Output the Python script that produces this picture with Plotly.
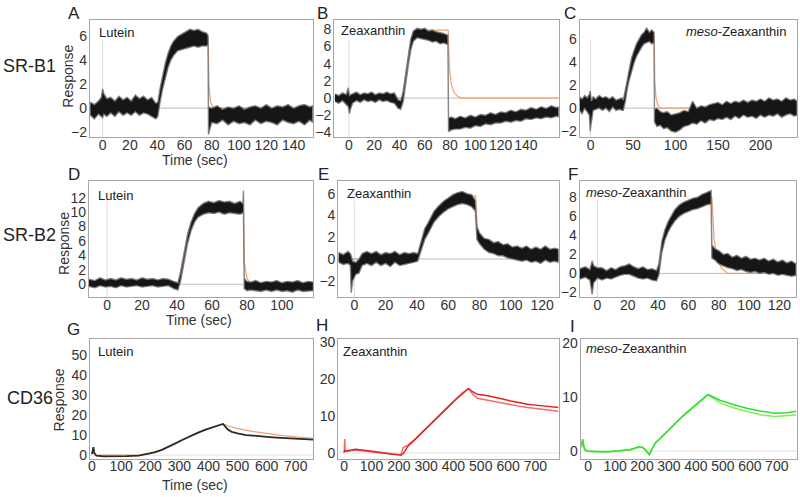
import plotly.graph_objects as go

# ---------------- DATA ----------------
# Row 1: SR-B1 ; noisy sensorgram envelopes (upper / lower), plus fitted curves
A_t = [-9, -6, -3, -1, 0, 1, 3, 6, 9, 12,
       15, 18, 21, 24, 27, 30, 33, 36, 39, 40.5,
       42, 44, 46, 48, 50, 52, 55, 58, 61, 64,
       67, 70, 73, 76, 77.3, 77.6, 80, 84, 88, 92,
       96, 100, 104, 108, 112, 116, 120, 124, 128, 132,
       136, 140, 144, 148, 152, 154]
A_up = [0.5, 0.3, 0.6, 0.9, 1.6, 1.2, 0.8, 0.9, 0.6, 1.0,
        0.7, 0.9, 0.6, 1.1, 0.8, 1.0, 0.7, 0.9, 0.4, 0.5,
        1.6, 2.8, 3.8, 4.6, 5.2, 5.6, 6.0, 6.2, 6.4, 6.6,
        6.5, 6.6, 6.4, 6.3, 6.1, 0.1, 0.0, 0.2, -0.1, 0.1,
        0.0, 0.2, -0.1, 0.1, 0.2, 0.0, 0.3, 0.0, 0.2, 0.1,
        0.3, 0.0, 0.2, 0.3, 0.1, 0.2]
A_lo = [-0.6, -0.9, -0.5, -0.7, -0.8, -0.5, -0.7, -0.4, -0.7, -0.3,
        -0.6, -0.4, -0.6, -0.3, -0.6, -0.4, -0.5, -0.7, -0.9, -0.7,
        0.4, 1.6, 2.6, 3.4, 4.0, 4.4, 4.8, 4.9, 5.0, 5.1,
        5.2, 5.1, 5.2, 5.2, 5.3, -2.2, -1.2, -1.3, -1.0, -1.4,
        -1.1, -1.3, -1.2, -1.4, -1.0, -1.3, -1.1, -1.2, -1.4, -1.0,
        -1.2, -1.3, -1.1, -1.4, -1.0, -1.2]
A_fit_t = [-9, 40.5, 42, 44, 46, 48, 50, 53, 56, 60, 65, 70, 77.3, 78, 79, 81, 154]
A_fit_y = [0, 0, 0.9, 2.0, 2.9, 3.6, 4.2, 4.8, 5.2, 5.5, 5.7, 5.8, 5.9, 2.0, 0.6, 0.0, 0.0]

B_t = [-11, -8, -5, -2, -0.5, 0.5, 1.5, 3, 6, 9,
       12, 15, 18, 21, 24, 27, 30, 33, 36, 39,
       41, 43, 45, 47, 49, 51, 54, 57, 60, 63,
       66, 69, 72, 75, 78.3, 78.8, 81, 84, 88, 92,
       96, 100, 104, 108, 112, 116, 120, 124, 128, 132,
       136, 140, 144, 148, 152, 156, 160, 164, 166]
B_up = [0.5, 0.3, 0.6, 0.4, 1.2, 0.3, 0.4, 0.5, 0.7, 0.4,
        0.6, 0.5, 0.7, 0.4, 0.6, 0.5, 0.7, 0.5, 0.6, -0.2,
        -0.3, 0.8, 3.0, 5.2, 6.9, 7.8, 8.1, 8.0, 8.1, 7.8,
        7.9, 7.7, 7.6, 7.5, 7.3, -2.3, -2.2, -2.4, -2.1, -2.3,
        -2.0, -2.2, -1.9, -2.0, -1.7, -1.9, -1.6, -1.7, -1.4, -1.6,
        -1.3, -1.4, -1.1, -1.3, -1.0, -1.2, -0.9, -1.1, -1.0]
B_lo = [-0.4, -0.6, -0.3, -0.8, -1.0, -1.8, -1.2, -0.6, -0.3, -0.5,
        -0.2, -0.4, -0.3, -0.5, -0.2, -0.4, -0.3, -0.5, -0.6, -1.2,
        -1.3, -0.4, 1.6, 3.8, 5.6, 6.6, 7.0, 6.9, 6.8, 6.7,
        6.5, 6.6, 6.3, 6.4, 6.2, -3.9, -3.7, -3.6, -3.6, -3.4,
        -3.5, -3.2, -3.3, -3.0, -3.1, -2.9, -2.9, -2.7, -2.8, -2.6,
        -2.7, -2.4, -2.5, -2.3, -2.4, -2.2, -2.3, -2.1, -2.2]
B_fit_t = [-11, 42, 44, 46, 48, 50, 53, 57, 65, 78.5, 79.5, 81, 83, 86, 89, 166]
B_fit_y = [0, 0, 1.8, 4.0, 5.9, 7.0, 7.6, 7.8, 7.9, 7.9, 3.5, 1.6, 0.7, 0.2, 0.0, 0.0]

C_t = [-13, -10, -7, -4, -1.5, -0.5, 1, 3, 6, 10,
       14, 18, 22, 26, 30, 34, 37, 38.5, 41, 43,
       45, 48, 51, 54, 57, 60, 63, 66, 69, 72,
       74.7, 75.2, 78, 82, 86, 90, 95, 100, 105, 110,
       115, 120, 125, 130, 135, 140, 145, 150, 155, 160,
       165, 170, 175, 180, 185, 190, 195, 200, 205, 210,
       215, 220, 225, 230, 235, 240, 243]
C_up = [1.0, 0.8, 1.1, 0.9, 1.2, 1.5, 0.6, 1.0, 0.8, 1.1,
        0.9, 1.0, 0.8, 1.0, 0.7, 0.8, 0.9, 0.7, 1.6, 2.6,
        3.3, 4.3, 5.0, 5.6, 6.0, 6.4, 6.6, 7.0, 6.6, 6.8,
        6.6, -0.1, 0.0, -0.3, -0.4, -0.3, -0.6, -0.5, -0.4, -0.2,
        -0.3, 0.6, 0.0, 0.2, 0.1, 0.3, 0.4, 0.5, 0.3, 0.6,
        0.4, 0.6, 0.5, 0.7, 0.5, 0.7, 0.6, 0.8, 0.6, 0.9,
        0.7, 0.8, 0.6, 0.9, 0.7, 0.8, 0.6]
C_lo = [-0.2, -0.5, 0.0, -0.3, -0.6, -2.0, -1.2, -0.2, -0.1, 0.0,
        -0.2, 0.0, -0.3, 0.1, -0.2, -0.1, -0.2, -0.2, 0.6, 1.6,
        2.3, 3.2, 3.9, 4.5, 4.9, 5.3, 5.6, 5.7, 5.8, 5.6,
        5.7, -1.2, -1.6, -1.5, -1.8, -1.7, -2.0, -2.1, -1.9, -1.6,
        -1.5, -1.3, -1.4, -1.1, -1.3, -1.0, -1.1, -0.9, -1.0, -0.8,
        -1.0, -0.7, -0.9, -0.6, -0.8, -0.7, -0.9, -0.6, -0.8, -0.6,
        -0.7, -0.5, -0.8, -0.6, -0.5, -0.7, -0.6]
C_fit_t = [-13, 38.5, 41, 44, 47, 50, 54, 58, 63, 68, 75, 75.5, 77, 79, 82, 243]
C_fit_y = [0, 0, 1.2, 2.4, 3.4, 4.2, 5.0, 5.5, 5.9, 6.1, 6.2, 2.5, 0.9, 0.3, 0.0, 0.0]

# Row 2: SR-B2
D_t = [-10.5, -7, -4, -1, 2, 5, 8, 11, 14, 17,
       20, 23, 26, 29, 32, 35, 38, 40.5, 42, 44,
       46, 48, 50, 52, 55, 58, 61, 64, 67, 70,
       73, 76, 77.7, 78, 78.4, 80, 82, 85, 88, 91,
       94, 97, 100, 103, 106, 109, 112, 115, 118]
D_up = [0.7, 0.5, 0.9, 0.6, 0.8, 0.6, 0.9, 0.7, 0.8, 0.6,
        0.9, 0.7, 0.8, 0.6, 0.8, 0.7, 0.4, 0.2, 1.6, 4.2,
        6.8, 8.6, 9.8, 10.6, 11.2, 11.5, 11.3, 11.6, 11.4, 11.5,
        11.2, 11.5, 11.2, 13.0, 0.8, 0.4, 0.3, 0.5, 0.2, 0.4,
        0.3, 0.5, 0.2, 0.4, 0.3, 0.5, 0.2, 0.4, 0.3]
D_lo = [-0.3, -0.5, -0.2, -0.4, -0.3, -0.5, -0.2, -0.4, -0.3, -0.2,
        -0.4, -0.3, -0.2, -0.4, -0.3, -0.2, -0.6, -0.8, 0.4, 3.0,
        5.6, 7.4, 8.6, 9.3, 9.7, 9.9, 9.8, 10.0, 9.7, 9.9,
        9.8, 9.7, 9.9, 10.0, -0.6, -0.9, -0.8, -0.9, -1.0, -0.8,
        -1.0, -0.8, -1.0, -0.9, -1.1, -0.8, -1.0, -0.9, -0.9]
D_fit_t = [-10.5, 40.5, 42, 44, 46, 48, 50, 53, 57, 62, 70, 78, 78.5, 80, 82, 118]
D_fit_y = [0.0, 0.0, 1.8, 4.5, 7.0, 8.6, 9.5, 10.2, 10.5, 10.6, 10.6, 10.6, 3.0, 0.8, 0.2, 0.0]

E_t = [-10, -7, -4, -2.5, -2, -1, 1, 3, 5, 8,
       11, 14, 17, 20, 23, 26, 29, 32, 35, 38,
       40.5, 43, 45, 47, 49, 51, 54, 57, 60, 63,
       66, 69, 72, 75, 77.3, 78.3, 80, 83, 86, 89,
       92, 95, 98, 101, 104, 107, 110, 113, 116, 119,
       122, 125, 128, 130.5]
E_up = [0.6, 0.4, 0.7, 0.5, 0.3, -0.2, -0.3, 0.0, 0.5, 0.7,
        0.5, 0.7, 0.4, 0.6, 0.5, 0.7, 0.4, 0.6, 0.5, 0.6,
        0.5, 1.9, 2.8, 3.3, 3.9, 4.4, 4.9, 5.3, 5.6, 5.9,
        6.1, 6.2, 6.0, 5.9, 5.4, 3.0, 2.4, 1.9, 1.8, 1.5,
        1.6, 1.3, 1.4, 1.1, 1.2, 1.0, 1.2, 0.9, 1.1, 0.9,
        1.2, 0.9, 1.0, 0.9]
E_lo = [-0.3, -0.5, -0.4, -0.6, -3.1, -2.0, -1.4, -1.3, -0.6, -0.4,
        -0.6, -0.3, -0.6, -0.4, -0.7, -0.3, -0.6, -0.5, -0.4, -0.3,
        -0.2, 1.0, 1.8, 2.3, 2.8, 3.4, 3.9, 4.3, 4.6, 4.8,
        5.0, 5.1, 5.0, 4.8, 4.4, 1.8, 1.4, 0.9, 0.6, 0.5,
        0.3, 0.3, 0.1, 0.0, -0.1, -0.2, -0.1, -0.3, -0.2, -0.4,
        -0.1, -0.3, -0.2, -0.3]
E_fit_t = [-10, 40.5, 43, 46, 50, 54, 58, 62, 66, 70, 77.5, 78.5, 80, 84, 90, 100, 110, 130.5]
E_fit_y = [0, 0, 1.4, 2.4, 3.6, 4.4, 5.0, 5.4, 5.6, 5.7, 5.8, 2.6, 1.8, 1.3, 0.9, 0.6, 0.4, 0.3]

F_t = [-11.5, -8, -5, -3.5, -2.5, 0, 3, 6, 9, 12,
       15, 18, 21, 24, 27, 30, 33, 36, 39, 40.5,
       42.5, 44.5, 46.5, 48.5, 51, 54, 57, 60, 63, 66,
       69, 72, 75, 75.5, 77.5, 80, 83, 86, 89, 92,
       95, 98, 101, 104, 107, 110, 113, 116, 119, 122,
       125, 128, 131]
F_up = [0.5, 0.7, 0.4, 1.3, 0.8, 0.6, 0.6, 0.3, 0.6, 0.4,
        0.7, 0.8, 1.0, 0.7, 0.5, 0.7, 0.4, 0.5, 0.3, 1.0,
        3.4, 4.6, 5.4, 6.0, 6.7, 7.2, 7.5, 7.7, 7.9, 8.0,
        8.3, 8.5, 8.7, 3.0, 2.6, 2.4, 2.0, 2.1, 1.7, 1.9,
        1.6, 1.8, 1.5, 1.6, 1.4, 1.6, 1.3, 1.5, 1.2, 1.4,
        1.1, 1.3, 1.0]
F_lo = [-0.6, -0.4, -0.7, -2.2, -1.0, -0.5, -0.7, -0.5, -0.6, -0.4,
        -0.2, -0.1, -0.1, -0.3, -0.5, -0.6, -0.5, -0.7, -0.8, -0.2,
        2.2, 3.5, 4.3, 4.9, 5.5, 6.0, 6.3, 6.5, 6.7, 6.8,
        7.0, 7.2, 7.3, 1.6, 1.4, 1.0, 0.8, 0.6, 0.5, 0.3,
        0.4, 0.2, 0.1, 0.2, 0.0, 0.1, -0.1, 0.0, -0.2, -0.1,
        -0.2, -0.3, -0.2]
F_fit_t = [-11.5, 40, 42, 44, 46, 49, 52, 56, 60, 65, 70, 75.5, 77, 79, 82, 86, 131]
F_fit_y = [0, 0, 2.0, 3.6, 4.7, 5.8, 6.5, 7.1, 7.4, 7.7, 7.9, 8.0, 3.5, 1.5, 0.5, 0.0, 0.0]

# Row 3: CD36 (smoother traces)
G_t = [0, 3, 5, 8, 15, 40, 80, 120, 160, 190, 215, 240, 265, 290, 315, 340,
       365, 390, 415, 440, 450, 458, 468, 480, 500, 530, 570, 610, 650, 700, 760]
G_y = [0.5, 2.0, 4.0, 1.0, -0.2, -0.6, -0.6, -0.5, -0.2, 0.5, 1.4, 2.6, 4.2, 6.1, 7.9, 9.7,
       11.2, 12.7, 13.9, 15.0, 15.5, 14.2, 12.6, 11.6, 10.8, 10.0, 9.4, 9.0, 8.6, 8.1, 7.7]
G_fit_t = [20, 160, 190, 215, 240, 265, 290, 315, 340, 365, 390, 415, 440, 450,
           470, 500, 550, 600, 650, 700, 760]
G_fit_y = [0, 0, 0.5, 1.4, 2.6, 4.2, 6.1, 7.9, 9.7, 11.2, 12.7, 13.9, 15.0, 15.5,
           14.5, 13.2, 11.8, 10.7, 9.8, 9.1, 8.4]

H_t = [0, 2, 4, 10, 40, 89, 138, 186, 208, 216, 235, 260, 284, 308, 332, 357,
       381, 406, 430, 455, 470, 488, 520, 549, 580, 610, 640, 671, 710, 750, 785]
H_y1 = [0.2, 0.8, 0.5, 0.6, 1.0, 0.6, 0.1, -0.5, -0.6, -0.2, 2.0, 3.7, 5.5, 7.2, 9.0, 10.8,
        12.5, 14.3, 16.0, 17.5, 16.6, 15.9, 15.6, 15.2, 14.6, 14.1, 13.6, 13.2, 12.9, 12.6, 12.3]
H_y2 = [0.0, 3.8, 0.6, 0.4, 0.8, 0.5, 0.0, -0.4, -0.3, 1.5, 2.2, 3.8, 5.6, 7.3, 9.1, 10.9,
        12.6, 14.4, 16.1, 17.4, 16.0, 14.8, 14.4, 14.0, 13.6, 13.2, 12.7, 12.3, 11.9, 11.6, 11.3]

I_t = [-25, -20, -15, -10, 0, 30, 70, 110, 157, 188, 202, 212, 227, 237, 249, 270,
       289, 313, 338, 364, 389, 417, 445, 470, 491, 541, 592, 642, 693, 740, 772]
I_y1 = [1.0, 2.2, 0.8, 0.2, 0.0, -0.1, -0.2, 0.0, 0.3, 0.8, 0.7, 0.2, -0.7, 0.3, 1.5, 2.5,
        3.5, 4.7, 5.9, 7.1, 8.2, 9.4, 10.5, 9.9, 9.4, 8.6, 7.9, 7.4, 7.0, 7.1, 7.4]
I_y2 = [0.6, 1.5, 0.4, 0.0, -0.1, -0.2, -0.1, 0.1, 0.2, 0.7, 0.6, 0.3, -0.5, 0.4, 1.4, 2.4,
        3.4, 4.6, 5.8, 7.0, 8.1, 9.3, 10.4, 9.6, 8.9, 8.0, 7.3, 6.7, 6.4, 6.5, 6.7]

# Tick labels
X_TICKS_A = [0, 20, 40, 60, 80, 100, 120, 140]
X_TICKS_C = [0, 50, 100, 150, 200]
X_TICKS_D = [0, 20, 40, 60, 80, 100]
X_TICKS_EF = [0, 20, 40, 60, 80, 100, 120]
X_TICKS_CD36 = [0, 100, 200, 300, 400, 500, 600, 700]
Y_TICKS_A = [-2, 0, 2, 4, 6]
Y_TICKS_B = [-4, -2, 0, 2, 4, 6, 8]
Y_TICKS_D = [0, 2, 4, 6, 8, 10, 12]
Y_TICKS_E = [-2, 0, 2, 4, 6]
Y_TICKS_F = [-2, 0, 2, 4, 6, 8]
Y_TICKS_G = [0, 10, 20, 30, 40, 50]
Y_TICKS_H = [0, 10, 20, 30]
Y_TICKS_I = [0, 10, 20]

LIGANDS = ["Lutein", "Zeaxanthin", "<i>meso</i>-Zeaxanthin"]
RECEPTORS = ["SR-B1", "SR-B2", "CD36"]
LETTERS = ["A", "B", "C", "D", "E", "F", "G", "H", "I"]

# ---------------- LAYOUT ----------------
W, H = 800, 497
FONT = "Liberation Sans, Arial, Helvetica, sans-serif"

def fx(p):
    return p / W

def fy(p):
    return 1 - p / H

# pixel boxes: (left, right, top, bottom), axis ranges
panels = [
    dict(box=(88, 312, 16, 135), xr=[-9.4, 154.4], yr=[-2.4, 7.4], xt=X_TICKS_A, yt=Y_TICKS_A),
    dict(box=(333, 558, 16, 135), xr=[-11.6, 165.8], yr=[-4.5, 9.1], xt=X_TICKS_A, yt=Y_TICKS_B),
    dict(box=(579, 797, 16, 135), xr=[-13, 243], yr=[-2.5, 7.7], xt=X_TICKS_C, yt=Y_TICKS_A),
    dict(box=(87, 312, 180, 298), xr=[-10.5, 117.9], yr=[-1.8, 14.3], xt=X_TICKS_D, yt=Y_TICKS_D),
    dict(box=(337, 558, 180, 298), xr=[-10.3, 130.5], yr=[-3.5, 7.15], xt=X_TICKS_EF, yt=Y_TICKS_E),
    dict(box=(579, 796, 180, 298), xr=[-11.8, 131], yr=[-2.5, 9.7], xt=X_TICKS_EF, yt=Y_TICKS_F),
    dict(box=(88, 312, 340, 462), xr=[-7.5, 760], yr=[-1.7, 58], xt=X_TICKS_CD36, yt=Y_TICKS_G),
    dict(box=(337, 558, 340, 462), xr=[-22, 785], yr=[-1.5, 31], xt=X_TICKS_CD36, yt=Y_TICKS_H),
    dict(box=(580, 797, 340, 462), xr=[-28, 775], yr=[-1.4, 20.9], xt=X_TICKS_CD36, yt=Y_TICKS_I),
]

fig = go.Figure()
layout = dict(width=W, height=H, margin=dict(l=0, r=0, t=0, b=0),
              paper_bgcolor="white", plot_bgcolor="white", showlegend=False,
              font=dict(family=FONT, color="#333333"))
shapes = []

for i, p in enumerate(panels):
    n = i + 1
    sfx = "" if n == 1 else str(n)
    l, r, t, b = p["box"]
    common = dict(showline=True, mirror=True, linecolor="#a6a6a6", linewidth=1,
                  showgrid=False, zeroline=False, ticks="", tickangle=0,
                  tickfont=dict(size=14, color="#333333", family=FONT), fixedrange=True)
    layout["xaxis" + sfx] = dict(domain=[fx(l), fx(r)], anchor="y" + sfx, range=p["xr"],
                                 tickmode="array", tickvals=p["xt"], ticklabelstandoff=-5,
                                 **common)
    layout["yaxis" + sfx] = dict(domain=[fy(b), fy(t)], anchor="x" + sfx, range=p["yr"],
                                 tickmode="array", tickvals=p["yt"], ticklabelstandoff=-1,
                                 **common)
    zc = "#bdbdbd" if n <= 6 else "#e2e2e2"
    shapes.append(dict(type="line", xref="x" + sfx + " domain", x0=0, x1=1,
                       yref="y" + sfx, y0=0, y1=0, layer="below",
                       line=dict(color=zc, width=1)))
    if n <= 6:
        shapes.append(dict(type="line", xref="x" + sfx, x0=0, x1=0,
                           yref="y" + sfx + " domain", y0=0, y1=0.83, layer="below",
                           line=dict(color="#dadada", width=1)))

FIT_COLOR = "#f0a070"

def band(n, t, up, lo, fit_t, fit_y):
    sfx = "" if n == 1 else str(n)
    fig.add_trace(go.Scatter(x=fit_t, y=fit_y, mode="lines", xaxis="x" + sfx, yaxis="y" + sfx,
                             line=dict(color=FIT_COLOR, width=1.2), hoverinfo="skip"))
    fig.add_trace(go.Scatter(x=t + t[::-1], y=up + lo[::-1], mode="lines", fill="toself",
                             fillcolor="#161616", xaxis="x" + sfx, yaxis="y" + sfx,
                             line=dict(color="rgba(120,120,120,0.85)", width=1.4),
                             hoverinfo="skip"))

band(1, A_t, A_up, A_lo, A_fit_t, A_fit_y)
band(2, B_t, B_up, B_lo, B_fit_t, B_fit_y)
band(3, C_t, C_up, C_lo, C_fit_t, C_fit_y)
band(4, D_t, D_up, D_lo, D_fit_t, D_fit_y)
band(5, E_t, E_up, E_lo, E_fit_t, E_fit_y)
band(6, F_t, F_up, F_lo, F_fit_t, F_fit_y)

# CD36 panels
fig.add_trace(go.Scatter(x=G_fit_t, y=G_fit_y, mode="lines", xaxis="x7", yaxis="y7",
                         line=dict(color=FIT_COLOR, width=1.2)))
fig.add_trace(go.Scatter(x=G_t, y=G_y, mode="lines", xaxis="x7", yaxis="y7",
                         line=dict(color="#2a2a2a", width=1.8)))
fig.add_trace(go.Scatter(x=H_t, y=H_y2, mode="lines", xaxis="x8", yaxis="y8",
                         line=dict(color="#f26a6a", width=1.5)))
fig.add_trace(go.Scatter(x=H_t, y=H_y1, mode="lines", xaxis="x8", yaxis="y8",
                         line=dict(color="#e02424", width=1.5)))
fig.add_trace(go.Scatter(x=I_t, y=I_y2, mode="lines", xaxis="x9", yaxis="y9",
                         line=dict(color="#86ee5e", width=1.5)))
fig.add_trace(go.Scatter(x=I_t, y=I_y1, mode="lines", xaxis="x9", yaxis="y9",
                         line=dict(color="#2fe02f", width=1.5)))

# ---------------- TEXT ----------------
ann = []

def text(xp, yp, s, size, xanchor="center", color="#222222", angle=0):
    ann.append(dict(x=fx(xp), y=fy(yp), xref="paper", yref="paper", text=s, showarrow=False,
                    xanchor=xanchor, yanchor="middle", textangle=angle,
                    font=dict(size=size, color=color, family=FONT)))

for lab, yp in zip(RECEPTORS, [63, 235, 400]):
    text(28, yp, lab, 18)

letter_pos = [(72, 10), (321, 10), (569, 10), (72, 173), (322, 173), (572, 173),
              (72, 331), (321, 327), (572, 328)]
for L, (xp, yp) in zip(LETTERS, letter_pos):
    text(xp, yp, L, 17)

inset_pos = [(95, 29, "left"), (338, 27, "left"), (788, 28, "right"),
             (94, 195, "left"), (344, 193, "left"), (583, 192, "left"),
             (94, 353, "left"), (340, 353, "left"), (583, 350, "left")]
for k, (xp, yp, anc) in enumerate(inset_pos):
    text(xp, yp, LIGANDS[k % 3], 13, xanchor=anc)

for xp, yp in [(66, 73), (62, 243), (57, 402)]:
    text(xp, yp, "Response", 14, angle=-90, color="#333333")
for xp, yp in [(193, 159), (197, 321), (193, 489)]:
    text(xp, yp, "Time (sec)", 14, color="#333333")

layout["annotations"] = ann
layout["shapes"] = shapes
fig.update_layout(**layout)
fig.write_html("out.html", config={"displayModeBar": False},
               post_script="document.body.style.margin='0px';document.body.style.overflow='hidden';")
